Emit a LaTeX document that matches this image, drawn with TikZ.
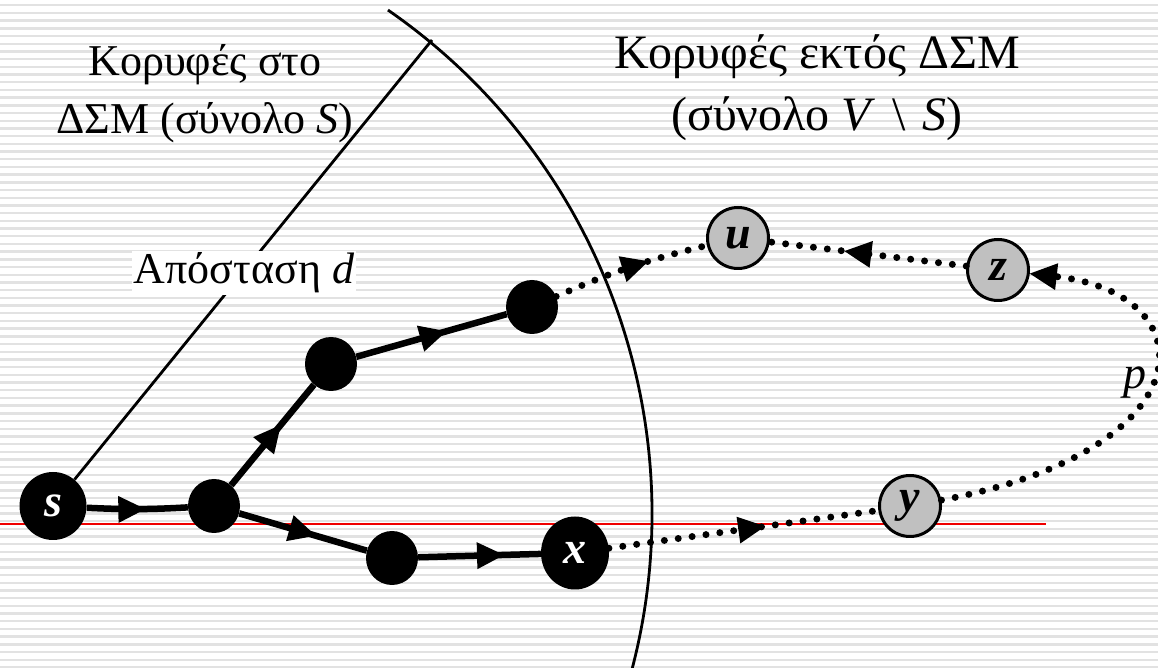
\documentclass[tikz,border=0pt]{standalone}
\usepackage{fontspec}
\setmainfont{Liberation Serif}
\usetikzlibrary{arrows.meta,positioning,decorations.markings,shapes.geometric}
\definecolor{ink}{HTML}{000000}
\definecolor{stripe}{HTML}{E2E2E2}
\definecolor{vgray}{HTML}{C0C0C0}
\definecolor{cutred}{HTML}{F00000}

\begin{document}
\begin{tikzpicture}[x=1pt,y=1pt,font=\fontsize{44}{58}\selectfont,
    inner/.style={ellipse,fill=ink,inner sep=0pt,minimum width=52pt,minimum height=54pt},
    term/.style={ellipse,fill=ink,inner sep=0pt,text=white,font=\fontsize{46}{46}\selectfont\bfseries\itshape},
    outer/.style={circle,draw=ink,line width=3pt,fill=vgray,inner sep=0pt,minimum size=61pt,font=\fontsize{46}{46}\selectfont\bfseries\itshape},
    tree/.style={line width=6.5pt,draw=ink},
    walk/.style={line width=7pt,draw=ink,line cap=round,dash pattern=on 0pt off 14pt},
    thinline/.style={line width=2.8pt,draw=ink},
    tri/.tip={Triangle[length=27pt,width=27pt,line width=0pt]},
    midarrow/.style={postaction={decorate},decoration={markings,mark=at position #1 with {\arrow{tri}}}},
    midarrow/.default=0.6]
    \useasboundingbox (0,0) rectangle (1158,668);
    \fill[white] (0,0) rectangle (1158,668);
    \foreach \k in {0,...,86} \fill[stripe] (0,{661.5-\k*7.7}) rectangle ++(1158,2.4);
    \draw[cutred,line width=1.5pt] (0,144) -- (1046,144);
    % the cut
    \draw[thinline] (39,154) ++(55.3:613) arc[start angle=55.3,end angle=-16,radius=613];
    % vertices
    \node[term,minimum width=67pt,minimum height=68pt] (s) at (53,162) {s};
    \node[inner] (a) at (214,162) {};
    \node[inner] (b) at (331,304) {};
    \node[inner] (c) at (532,361) {};
    \node[inner] (d) at (392,110) {};
    \node[term,minimum width=68pt,minimum height=73pt] (x) at (575,115) {x};
    \node[outer] (u) at (738,430) {u};
    \node[outer] (z) at (998,398) {z};
    \node[outer] (y) at (910,162) {y};
    \coordinate (dtop) at (432,628);
    \draw[thinline] (s) -- (dtop);
    \node[fill=white,inner sep=2pt] (dist) at (244,395) {Απόσταση \textit{d}};
    \node[align=center] (inS) at (205,574) {Κορυφές στο\\ΔΣΜ (σύνολο \textit{S})};
    \node[align=center,font=\fontsize{48}{62}\selectfont] (outS) at (817,580) {Κορυφές εκτός ΔΣΜ\\(σύνολο \textit{V}\hspace{0.35em}\textbackslash\hspace{0.35em}\textit{S})};
    % tree edges
    \draw[tree,midarrow=0.58] (s) to[bend right=3] (a);
    \draw[tree,midarrow] (a) -- (b);
    \draw[tree,midarrow] (b) -- (c);
    \draw[tree,midarrow] (a) -- (d);
    \draw[tree,midarrow=0.7] (d) -- (x);
    % path p
    \draw[walk,midarrow=0.62] (c) to[bend left=5] (u);
    \draw[walk,midarrow=0.62] (z) -- (u);
    \draw[walk,midarrow=0.58] (x) -- (y);
    \draw[walk,-tri] (y) .. controls (1209,218) and (1209,374) .. (z);
    \node[font=\fontsize{46}{46}\selectfont\itshape] (p) at (1135,285) {p};
\end{tikzpicture}
\end{document}
